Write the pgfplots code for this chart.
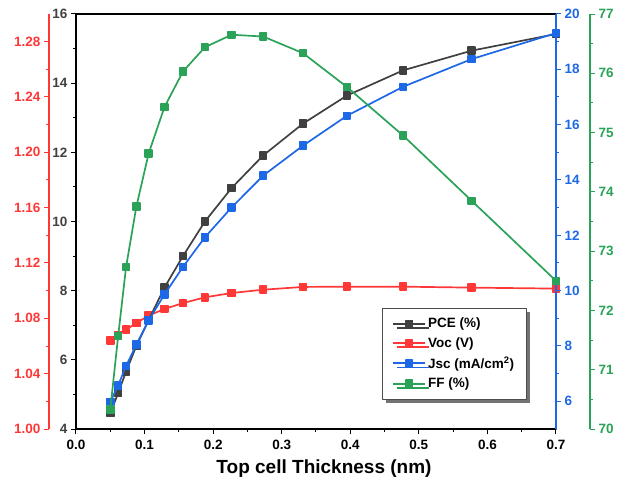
\documentclass[border=0pt]{standalone}
\usepackage{fontspec}
\setmainfont{Liberation Sans}
\usepackage{pgfplots}
\pgfplotsset{compat=1.18}
\usetikzlibrary{shadows}
\definecolor{pcec}{RGB}{64,64,64}
\definecolor{vocc}{RGB}{255,55,55}
\definecolor{jscc}{RGB}{28,104,230}
\definecolor{ffc}{RGB}{42,163,88}
\pgfplotsset{
  common/.style={
    scale only axis, width=480pt, height=415pt,
    at={(0pt,0pt)}, anchor=south west,
    xmin=0, xmax=0.7,
    tick align=outside,
    major tick length=5pt, minor tick length=3pt,
    every tick/.style={line width=1pt},
    axis line style={line width=1.4pt},
    tick label style={font=\bfseries\fontsize{13.5}{16}\selectfont},
    /pgf/number format/assume math mode=true,
    line join=round,
  },
  ser/.style={#1, line width=1.7pt, mark=square*, mark size=3.4pt, mark options={solid, fill=#1, draw=#1}},
}
\begin{document}
\begin{tikzpicture}
\useasboundingbox (-76pt,-53pt) rectangle (545pt,429pt);
% Voc axis (outer left, red)
\begin{axis}[common,
  hide x axis,
  axis y line*=left,
  axis y line shift=27pt,
  ymin=1.00, ymax=1.30,
  ytick={1.00,1.04,1.08,1.12,1.16,1.20,1.24,1.28},
  minor y tick num=1,
  y axis line style={vocc},
  y tick style={vocc},
  yticklabel style={text=vocc, /pgf/number format/.cd, fixed, fixed zerofill, precision=2},
]
\addplot[ser=vocc] coordinates {
(0.05,1.0639) (0.0615,1.0680) (0.073,1.0718) (0.088,1.0766) (0.106,1.0820)
(0.129,1.0868) (0.156,1.0910) (0.188,1.0952) (0.227,1.0983) (0.273,1.1007)
(0.331,1.1027) (0.395,1.1029) (0.477,1.1029) (0.577,1.1022) (0.70,1.1015)};
\end{axis}
% PCE axis (main, black)
\begin{axis}[common,
  axis x line*=box, 
  xtick={0,0.1,0.2,0.3,0.4,0.5,0.6,0.7},
  minor x tick num=1,
  xtick pos=bottom, ytick pos=left,
  xticklabel style={yshift=-3pt, /pgf/number format/.cd, fixed, fixed zerofill, precision=1},
  ymin=4, ymax=16,
  ytick={4,6,...,16},
  minor y tick num=1,
  yticklabel style={text=pcec},
  xlabel={Top cell Thickness (nm)},
  xlabel style={font=\bfseries\fontsize{19}{22}\selectfont, yshift=-3pt, xshift=8pt},
]
\addplot[ser=pcec] coordinates {
(0.05,4.46) (0.0615,5.04) (0.073,5.66) (0.088,6.40) (0.106,7.15)
(0.129,8.09) (0.156,9.00) (0.188,10.00) (0.227,10.97) (0.273,11.91)
(0.331,12.83) (0.395,13.64) (0.477,14.37) (0.577,14.94) (0.70,15.42)};
\end{axis}
% Jsc axis (inner right, blue)
\begin{axis}[common,
  hide x axis,
  axis y line*=right,
  ymin=5, ymax=20,
  ytick={6,8,...,20},
  minor y tick num=1,
  y axis line style={jscc},
  y tick style={jscc},
  yticklabel style={text=jscc},
]
\addplot[ser=jscc] coordinates {
(0.05,5.98) (0.0615,6.58) (0.073,7.27) (0.088,8.05) (0.106,8.93)
(0.129,9.86) (0.156,10.86) (0.188,11.93) (0.227,13.01) (0.273,14.16)
(0.331,15.24) (0.395,16.32) (0.477,17.37) (0.577,18.37) (0.70,19.31)};
\end{axis}
% FF axis (outer right, green)
\begin{axis}[common,
  hide x axis,
  axis y line*=right,
  axis y line shift=34pt,
  ymin=70, ymax=77,
  ytick={70,71,...,77},
  minor y tick num=1,
  y axis line style={ffc},
  y tick style={ffc},
  yticklabel style={text=ffc},
  legend cell align=left,
  legend style={at={(0.6375,0.2916)}, anchor=north west,
    draw=black!70, fill=white,
    drop shadow={shadow xshift=4pt, shadow yshift=-4pt, fill=black!55, opacity=1},
    font=\bfseries\fontsize{13.5}{16}\selectfont,
    row sep=4pt, inner xsep=10pt, inner ysep=8pt},
  legend image code/.code={
    \draw[#1, mark=none, line width=2pt] (0pt,0pt) -- (32pt,0pt);
    \draw[#1, only marks] plot coordinates {(16pt,0pt)};},
]
\addlegendimage{ser=pcec}
\addlegendentry{PCE (\%)}
\addlegendimage{ser=vocc}
\addlegendentry{Voc (V)}
\addlegendimage{ser=jscc}
\addlegendentry{Jsc (mA/cm\textsuperscript{2})}
\addplot[ser=ffc] coordinates {
(0.05,70.33) (0.0615,71.57) (0.073,72.73) (0.088,73.75) (0.106,74.65)
(0.129,75.43) (0.156,76.03) (0.188,76.44) (0.227,76.65) (0.273,76.62)
(0.331,76.34) (0.395,75.77) (0.477,74.95) (0.577,73.85) (0.70,72.50)};
\addlegendentry{FF (\%)}
\end{axis}
\end{tikzpicture}
\end{document}
